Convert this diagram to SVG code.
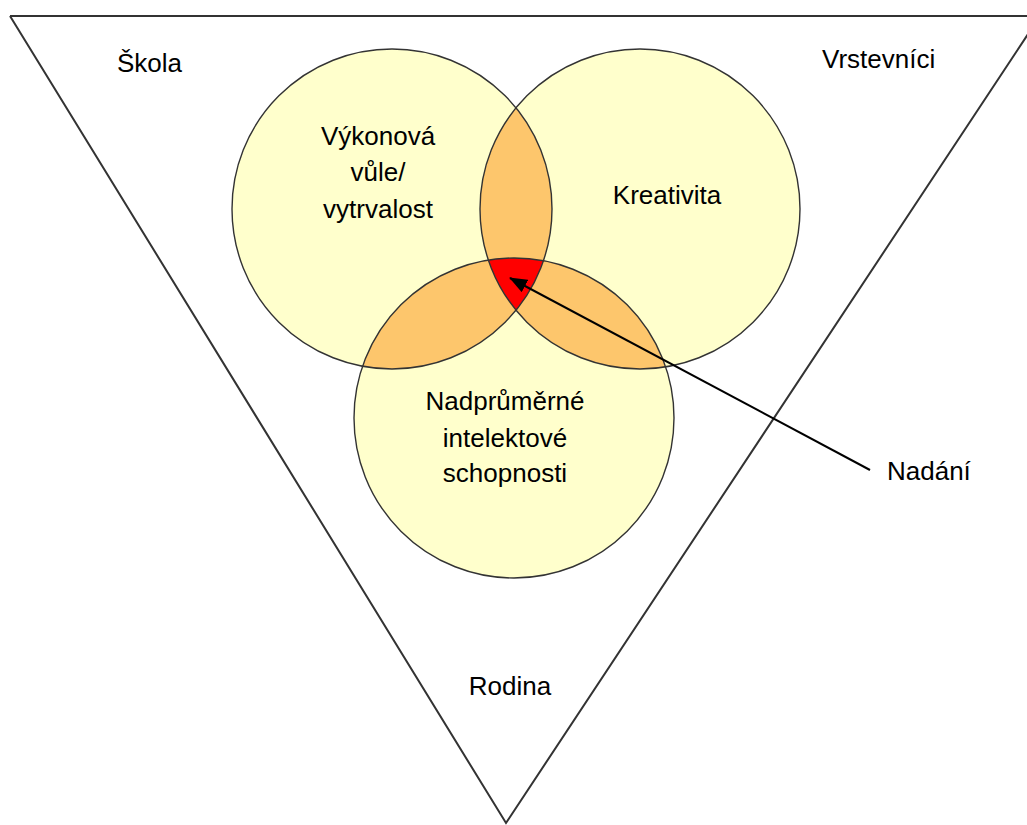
<svg xmlns="http://www.w3.org/2000/svg" width="1027" height="825" viewBox="0 0 1027 825">
<style>
text{font-family:"Liberation Sans",Arial,sans-serif;font-size:26px;fill:#000}
.c{fill:#FFFFCC;stroke:none}
.o{stroke:#333;stroke-width:1.4;fill:none}
.ov{fill:#FDC66C}
</style>
<defs>
<marker id="ah" markerWidth="18" markerHeight="14" refX="17" refY="7" orient="auto" markerUnits="userSpaceOnUse" viewBox="0 0 18 14"><path d="M0,0 L18,7 L0,14 z" fill="#000"/></marker>
<clipPath id="cl"><circle cx="392" cy="209" r="160"/></clipPath>
<clipPath id="cr"><circle cx="640" cy="209" r="160"/></clipPath>
<clipPath id="cb"><circle cx="514" cy="418" r="160"/></clipPath>
</defs>
<rect width="1027" height="825" fill="#fff"/>
<g id="frame">
<path d="M10,16 L1027,16 M10,16 L506,823 L1040,16" stroke="#333" stroke-width="2" fill="none"/>
</g>
<g id="circles">
<circle class="c" cx="392" cy="209" r="160"/>
<circle class="c" cx="640" cy="209" r="160"/>
<circle class="c" cx="514" cy="418" r="160"/>
<g clip-path="url(#cl)"><circle class="ov" cx="640" cy="209" r="160"/><circle class="ov" cx="514" cy="418" r="160"/></g>
<g clip-path="url(#cr)"><circle class="ov" cx="514" cy="418" r="160"/></g>
<g clip-path="url(#cl)"><g clip-path="url(#cr)"><circle cx="514" cy="418" r="160" fill="#FF0000"/></g></g>
<circle class="o" cx="392" cy="209" r="160"/>
<circle class="o" cx="640" cy="209" r="160"/>
<circle class="o" cx="514" cy="418" r="160"/>
</g>
<g id="labels">
<text x="117" y="72">Škola</text>
<text x="822" y="68">Vrstevníci</text>
<text x="510" y="695" text-anchor="middle">Rodina</text>
<text x="378" y="145" text-anchor="middle">Výkonová</text>
<text x="378" y="181" text-anchor="middle">vůle/</text>
<text x="378" y="218" text-anchor="middle">vytrvalost</text>
<text x="667" y="204" text-anchor="middle">Kreativita</text>
<text x="505" y="410" text-anchor="middle">Nadprůměrné</text>
<text x="505" y="447" text-anchor="middle">intelektové</text>
<text x="505" y="482" text-anchor="middle">schopnosti</text>
<text x="887" y="480">Nadání</text>
</g>
<g id="connectors">
<line x1="870" y1="470" x2="510" y2="278" stroke="#000" stroke-width="2" marker-end="url(#ah)"/>
</g>
</svg>
